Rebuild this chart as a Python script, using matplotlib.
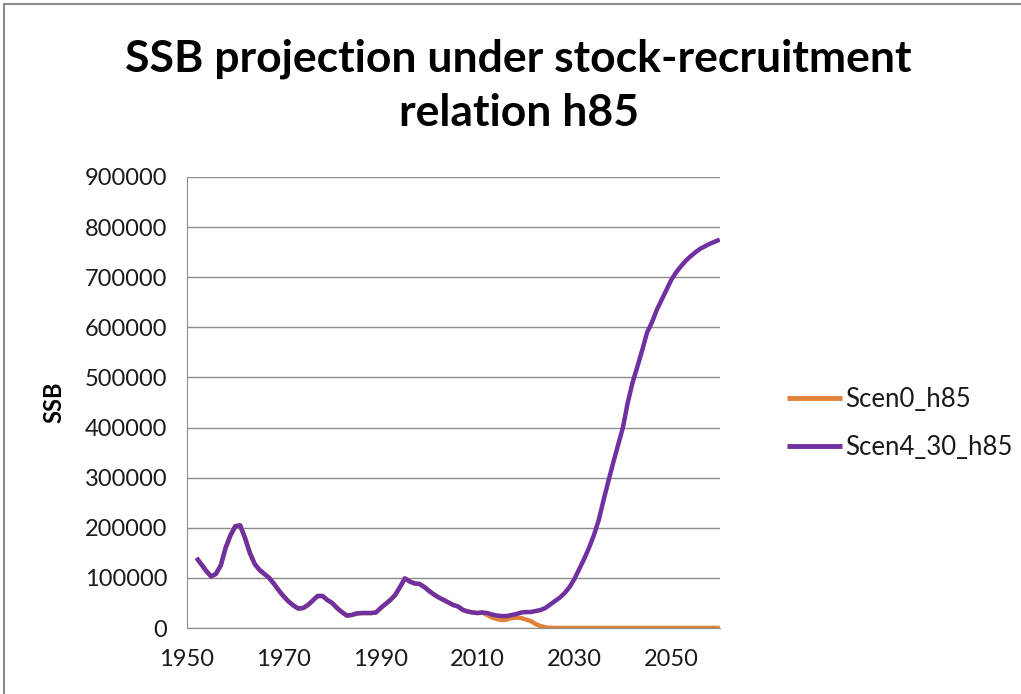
import matplotlib
matplotlib.use("Agg")
import matplotlib.pyplot as plt
from matplotlib.patches import Rectangle

years = list(range(1952, 2061))

scen4_30_h85 = [
    140000, 127000, 114000, 103000, 108000, 125000, 160000, 185000, 203000, 205000,
    180000, 150000, 128000, 116000, 108000, 100000, 88000, 75000, 63000, 53000,
    45000, 39000, 40000, 46000, 55000, 64000, 64000, 56000, 50000, 40000,
    32000, 25000, 26000, 29000, 30000, 30000, 30000, 31000, 40000, 48000,
    56000, 66000, 82000, 99000, 93000, 89000, 88000, 82000, 74000, 67000,
    61000, 56000, 51000, 46000, 43000, 36000, 33000, 31000, 30000, 31000,
    30000, 27000, 25000, 24000, 24000, 26000, 28000, 31000, 32000, 32000,
    34000, 36000, 40000, 47000, 54000, 61000, 70000, 82000, 98000, 118000,
    138000, 160000, 185000, 215000, 255000, 293000, 330000, 365000, 400000, 450000,
    490000, 522000, 555000, 590000, 610000, 635000, 655000, 675000, 695000, 710000,
    722000, 733000, 742000, 750000, 757000, 762000, 767000, 771000, 775000,
]

scen0_h85 = scen4_30_h85[:60] + [
    26000, 21000, 18000, 16000, 17000, 20000, 21000, 20000, 17000, 14000,
    8000, 4000, 1500,
] + [300] * 36

x_ticks = [1950, 1970, 1990, 2010, 2030, 2050]
y_ticks = list(range(0, 900001, 100000))

fig = plt.figure(figsize=(10.21, 6.94), dpi=100)
ax = fig.add_axes([0.183, 0.095, 0.522, 0.650])

ax.plot(years, scen0_h85, color="#E0823A", lw=3.2, label="Scen0_h85", solid_capstyle="butt")
ax.plot(years, scen4_30_h85, color="#7030A0", lw=3.2, label="Scen4_30_h85", solid_capstyle="butt")

ax.set_xlim(1950, 2060)
ax.set_ylim(0, 900000)
ax.set_xticks(x_ticks)
ax.set_yticks(y_ticks)
ax.set_yticklabels([str(v) for v in y_ticks])
ax.tick_params(axis="both", length=0, labelsize=17, colors="#1a1a1a")
ax.tick_params(axis="y", pad=14)
ax.tick_params(axis="x", pad=15)
for lab in ax.get_xticklabels() + ax.get_yticklabels():
    lab.set_fontfamily("Lato")
ax.grid(axis="y", color="#8c8c8c", lw=1)
ax.set_axisbelow(True)
for s in ["top", "right"]:
    ax.spines[s].set_visible(False)
for s in ["left", "bottom"]:
    ax.spines[s].set_color("#8c8c8c")

ax.set_ylabel("SSB", fontsize=17, fontweight="bold", family="Lato", labelpad=14)

fig.text(0.508, 0.915, "SSB projection under stock-recruitment", ha="center", va="center",
         fontsize=32, fontweight="bold", family="Lato")
fig.text(0.508, 0.837, "relation h85", ha="center", va="center",
         fontsize=32, fontweight="bold", family="Lato")

leg = ax.legend(loc="center left", bbox_to_anchor=(1.1257, 0.4534), frameon=False,
                prop={"family": "Lato", "size": 18.5}, handlelength=2.14, handletextpad=0.15,
                labelspacing=0.9, borderaxespad=0, borderpad=0)
for t in leg.get_texts():
    t.set_color("#1a1a1a")
for h in leg.get_lines():
    h.set_linewidth(3.5)

fig.patches.append(Rectangle((0.004, -0.02), 1.2, 1.014, transform=fig.transFigure,
                             fill=False, edgecolor="#8c8c8c", lw=1.5))

fig.savefig("out.png", dpi=100)
